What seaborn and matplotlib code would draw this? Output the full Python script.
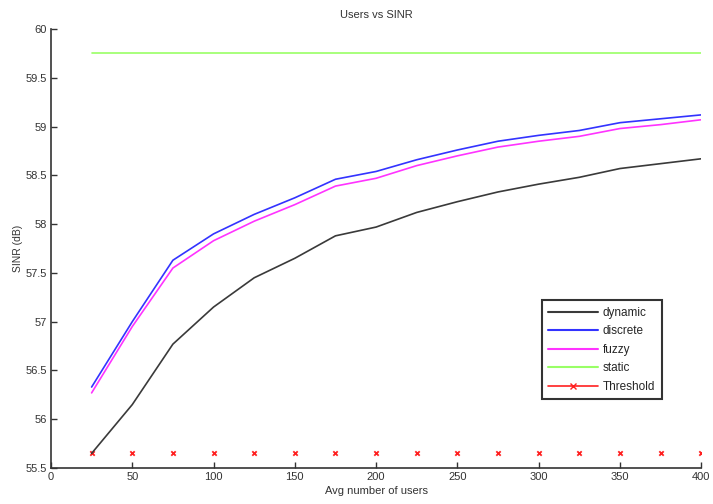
import numpy as np
import pandas as pd
import seaborn as sns
import matplotlib.pyplot as plt
from matplotlib.lines import Line2D

# veriler
users = [25, 50, 75, 100, 125, 150, 175, 200, 225, 250, 275, 300, 325, 350, 375, 400]
dynamic = [55.65, 56.15, 56.77, 57.15, 57.45, 57.65, 57.88, 57.97, 58.12, 58.23, 58.33, 58.41, 58.48, 58.57, 58.62, 58.67]
discrete = [56.33, 57.00, 57.63, 57.90, 58.10, 58.27, 58.46, 58.54, 58.66, 58.76, 58.85, 58.91, 58.96, 59.04, 59.08, 59.12]
fuzzy = [56.27, 56.95, 57.55, 57.83, 58.03, 58.20, 58.39, 58.47, 58.60, 58.70, 58.79, 58.85, 58.90, 58.98, 59.02, 59.07]
static = [59.75] * 16
threshold = [55.65] * 16

series_names = ["dynamic", "discrete", "fuzzy", "static"]
colors = {"dynamic": "#3a3a3a", "discrete": "#3333ff", "fuzzy": "#ff33ff", "static": "#99ff66"}

df = pd.DataFrame({
    "users": users * 4,
    "sinr": dynamic + discrete + fuzzy + static,
    "series": [s for s in series_names for _ in users],
})

sns.set_style("white")
plt.rcParams["font.family"] = ["Liberation Sans", "DejaVu Sans"]
plt.rcParams["font.size"] = 8

fig = plt.figure(figsize=(7.13, 5.04), dpi=100)
ax = fig.add_axes([0.0715, 0.0714, 0.912, 0.871])

sns.lineplot(data=df, x="users", y="sinr", hue="series", palette=colors,
             hue_order=series_names, linewidth=1.2, legend=False, ax=ax)
sns.scatterplot(x=users, y=threshold, marker="x", color="#ff2020", s=10,
                linewidth=1.3, ax=ax)

ax.set_xlim(0, 400)
ax.set_ylim(55.5, 60)
ax.set_xticks(np.arange(0, 401, 50))
ax.set_yticks(np.arange(55.5, 60.01, 0.5))
ax.set_yticklabels(["%g" % v for v in np.arange(55.5, 60.01, 0.5)])
ax.tick_params(direction="in", length=4, width=1, colors="#333333", labelsize=8,
               left=True, bottom=True, pad=3)
for side in ["top", "right"]:
    ax.spines[side].set_visible(False)
for side in ["left", "bottom"]:
    ax.spines[side].set_color("#333333")
    ax.spines[side].set_linewidth(1.2)

ax.set_title("Users vs SINR", fontsize=8, color="#333333", pad=8)
ax.set_xlabel("Avg number of users", fontsize=8, color="#333333", labelpad=3)
ax.set_ylabel("SINR (dB)", fontsize=7.5, color="#333333", labelpad=2)

handles = [Line2D([], [], color=colors[s], lw=1.5) for s in series_names]
handles.append(Line2D([], [], color="#ff2020", lw=1.2, marker="x", markersize=4))
leg = ax.legend(handles, series_names + ["Threshold"], loc="upper left",
                bbox_to_anchor=(0.755, 0.382), frameon=True, fancybox=False,
                fontsize=8.5, handlelength=4.2, borderpad=0.55, labelspacing=0.55,
                handletextpad=0.4, borderaxespad=0)
leg.get_frame().set_edgecolor("black")
leg.get_frame().set_linewidth(1.5)

plt.savefig("out.png", dpi=100)
